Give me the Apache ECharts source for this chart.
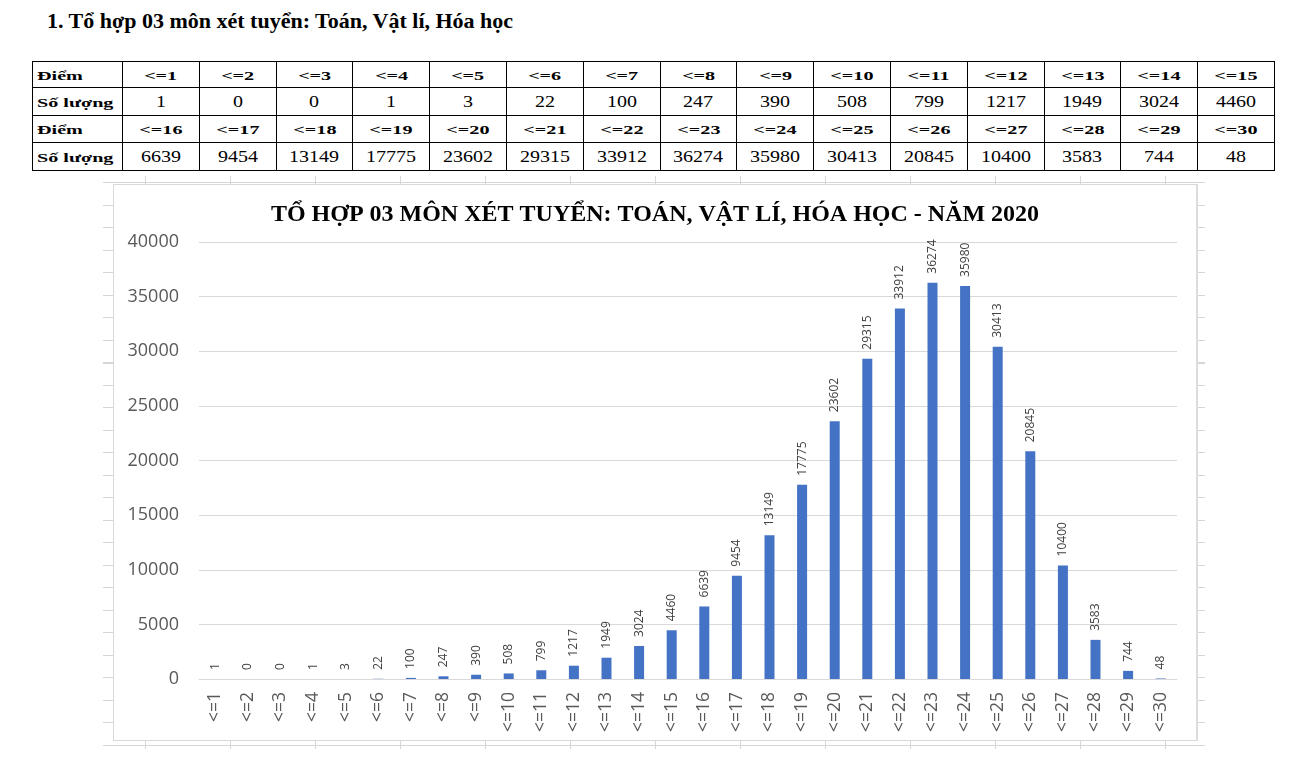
<!DOCTYPE html>
<html>
<head>
<meta charset="utf-8">
<script src="https://cdn.jsdelivr.net/npm/echarts@6/dist/echarts.min.js"></script>
<style>
  html, body { margin: 0; padding: 0; background: #fff; width: 1292px; height: 769px; overflow: hidden; }
  #heading { position: absolute; left: 47px; top: 8px; font-family: "Liberation Serif", "DejaVu Serif", serif; font-weight: bold; font-size: 22px; color: #000; white-space: nowrap; }
  #tbl { position: absolute; left: 32px; top: 61px; border-collapse: collapse; font-family: "Liberation Serif", serif; color: #000; table-layout: fixed; }
  #tbl td { border: 1px solid #000; text-align: center; padding: 0; overflow: hidden; white-space: nowrap; }
  #tbl td span { display: inline-block; transform-origin: center center; }
  #tbl td.lab { text-align: left; padding-left: 4px; }
  #tbl td.lab span { transform-origin: left center; font-weight: bold; font-size: 13px; transform: scaleX(1.55); }
  #tbl tr.hdr td span { font-weight: bold; font-size: 13px; transform: scaleX(1.55); }
  #tbl tr.val td span { font-size: 16px; transform: scaleX(1.25); }
  #tbl tr.val td.lab span { font-size: 13px; transform: scaleX(1.55); font-weight: bold; }
  #sheet { position: absolute; left: 103px; top: 176px; width: 1102px; height: 573px;
    background-image:
      repeating-linear-gradient(to right, transparent 0px, transparent 42px, #d6d6d6 42px, #d6d6d6 43px, transparent 43px, transparent 85px),
      repeating-linear-gradient(to bottom, transparent 0px, transparent 6.5px, #d6d6d6 6.5px, #d6d6d6 7.5px, transparent 7.5px, transparent 22.5px);
  }
  #chart { position: absolute; left: 113px; top: 184px; width: 1085px; height: 557px; border: 1px solid #d9d9d9; border-right: 2px solid #dcdcdc; box-sizing: border-box; background: #fff; }
</style>
</head>
<body>
<div id="heading">1. Tổ hợp 03 môn xét tuyển: Toán, Vật lí, Hóa học</div>
<table id="tbl"></table>
<div id="sheet"></div>
<div id="chart"></div>
<script>
const categories = ["<=1","<=2","<=3","<=4","<=5","<=6","<=7","<=8","<=9","<=10","<=11","<=12","<=13","<=14","<=15",
  "<=16","<=17","<=18","<=19","<=20","<=21","<=22","<=23","<=24","<=25","<=26","<=27","<=28","<=29","<=30"];
const counts = [1,0,0,1,3,22,100,247,390,508,799,1217,1949,3024,4460,
  6639,9454,13149,17775,23602,29315,33912,36274,35980,30413,20845,10400,3583,744,48];
const rowLabelScore = "Điểm";
const rowLabelCount = "Số lượng";
const chartTitle = "TỔ HỢP 03 MÔN XÉT TUYỂN: TOÁN, VẬT LÍ, HÓA HỌC - NĂM 2020";

// build table
const tbl = document.getElementById('tbl');
const cg = document.createElement('colgroup');
const c0 = document.createElement('col'); c0.style.width = '90px'; cg.appendChild(c0);
for (let i = 0; i < 15; i++) { const c = document.createElement('col'); c.style.width = '76.8px'; cg.appendChild(c); }
tbl.appendChild(cg);
function cell(text, cls) {
  const td = document.createElement('td');
  if (cls) td.className = cls;
  const sp = document.createElement('span'); sp.textContent = text; td.appendChild(sp);
  return td;
}
const rowHeights = [26, 28, 27, 28];
for (let half = 0; half < 2; half++) {
  const tr1 = document.createElement('tr'); tr1.className = 'hdr'; tr1.style.height = rowHeights[half * 2] + 'px';
  const tr2 = document.createElement('tr'); tr2.className = 'val'; tr2.style.height = rowHeights[half * 2 + 1] + 'px';
  tr1.appendChild(cell(rowLabelScore, 'lab'));
  tr2.appendChild(cell(rowLabelCount, 'lab'));
  for (let i = half * 15; i < half * 15 + 15; i++) {
    tr1.appendChild(cell(categories[i]));
    tr2.appendChild(cell(String(counts[i])));
  }
  tbl.appendChild(tr1); tbl.appendChild(tr2);
}

const chart = echarts.init(document.getElementById('chart'), null, { renderer: 'canvas' });
chart.setOption({
  animation: false,
  backgroundColor: '#fff',
  title: {
    text: chartTitle, left: 'center', top: 13,
    textStyle: { fontFamily: 'Liberation Serif', fontWeight: 'bold', fontSize: 24, color: '#000' }
  },
  grid: { left: 85, right: 19, top: 57, bottom: 61, containLabel: false },
  xAxis: {
    type: 'category', data: categories,
    axisLine: { lineStyle: { color: '#d9d9d9' } },
    axisTick: { show: false },
    axisLabel: { rotate: 90, interval: 0, color: '#595959', fontSize: 17.5, fontFamily: 'Open Sans', margin: 13 }
  },
  yAxis: {
    type: 'value', min: 0, max: 40000, interval: 5000,
    axisLine: { show: false }, axisTick: { show: false },
    axisLabel: { color: '#595959', fontSize: 18, fontFamily: 'Open Sans', margin: 20, formatter: function (v) { return String(v); } },
    splitLine: { lineStyle: { color: '#d9d9d9' } }
  },
  series: [{
    type: 'bar', data: counts, barWidth: 10,
    itemStyle: { color: '#4472C4' },
    label: {
      show: true, position: 'top', rotate: 90, align: 'left', verticalAlign: 'middle', distance: 9,
      color: '#404040', fontSize: 12, fontFamily: 'Open Sans'
    }
  }]
});
</script>
</body>
</html>
